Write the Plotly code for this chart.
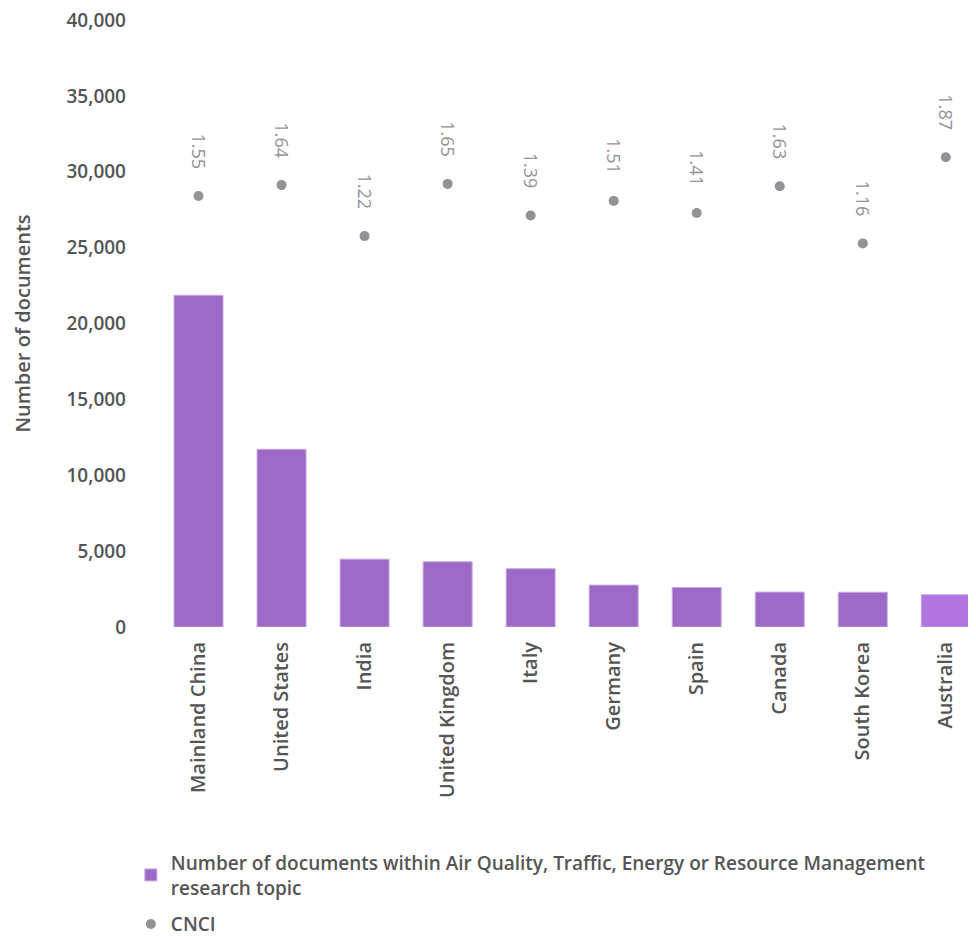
import plotly.graph_objects as go

COUNTRIES = ["Mainland China", "United States", "India", "United Kingdom", "Italy",
             "Germany", "Spain", "Canada", "South Korea", "Australia"]
DOCUMENTS = [21860, 11710, 4470, 4300, 3840, 2760, 2600, 2300, 2290, 2130]
CNCI = [1.55, 1.64, 1.22, 1.65, 1.39, 1.51, 1.41, 1.63, 1.16, 1.87]
Y_TICKS = [0, 5000, 10000, 15000, 20000, 25000, 30000, 35000, 40000]

BAR_COLOR = "#9c69c6"
BAR_LAST = "#b075df"
DOT_COLOR = "#929297"
TEXT_COLOR = "#555555"
FONT = "Open Sans"

bar_colors = [BAR_COLOR] * (len(COUNTRIES) - 1) + [BAR_LAST]

fig = go.Figure()
fig.add_bar(
    x=COUNTRIES, y=DOCUMENTS, legendgroup="docs",
    name="Number of documents within Air Quality, Traffic, Energy or Resource Management<br>research topic",
    marker=dict(color=bar_colors, line=dict(color="#c9a8e3", width=1)),
)
fig.add_trace(go.Scatter(
    x=COUNTRIES, y=CNCI, name="CNCI", yaxis="y2", mode="markers", legendgroup="cnci",
    marker=dict(color=DOT_COLOR, size=10),
))

# rotated CNCI labels above the dots
for c, v in zip(COUNTRIES, CNCI):
    fig.add_annotation(
        x=c, y=v, xref="x", yref="y2", text=f"{v:.2f}", showarrow=False,
        textangle=90, yshift=45,
        font=dict(family=FONT, size=18, color=DOT_COLOR),
    )

# the page body adds an 8px offset, margins are set with that in mind
fig.update_layout(
    width=976, height=936,
    margin=dict(l=149, r=0, t=12, b=317, autoexpand=False),
    paper_bgcolor="white", plot_bgcolor="white",
    font=dict(family=FONT, size=18, color=TEXT_COLOR),
    bargap=0.41,
    xaxis=dict(
        range=[-0.5, 9.46], tickangle=-90, showline=False, showgrid=False,
        ticks="", ticklabelstandoff=10,
        tickfont=dict(family=FONT, size=20, color=TEXT_COLOR, weight=600),
    ),
    yaxis=dict(
        range=[0, 40000], tickvals=Y_TICKS, tickformat=",", showgrid=False,
        zeroline=False, showline=False, ticks="", ticklabelstandoff=30,
        ticklabeloverflow="allow",
        tickfont=dict(family=FONT, size=19, color=TEXT_COLOR, weight=600),
        title=dict(text="Number of documents", standoff=30,
                   font=dict(family=FONT, size=20, color=TEXT_COLOR, weight=600)),
    ),
    yaxis2=dict(
        range=[-2, 3], overlaying="y", side="right", visible=False,
    ),
    showlegend=True,
    legend=dict(
        x=-0.0316, xanchor="left", y=-0.357, yanchor="top",
        font=dict(family=FONT, size=19, color=TEXT_COLOR, weight=600),
        tracegroupgap=9, itemwidth=30,
    ),
)

fig.write_html("out.html")
